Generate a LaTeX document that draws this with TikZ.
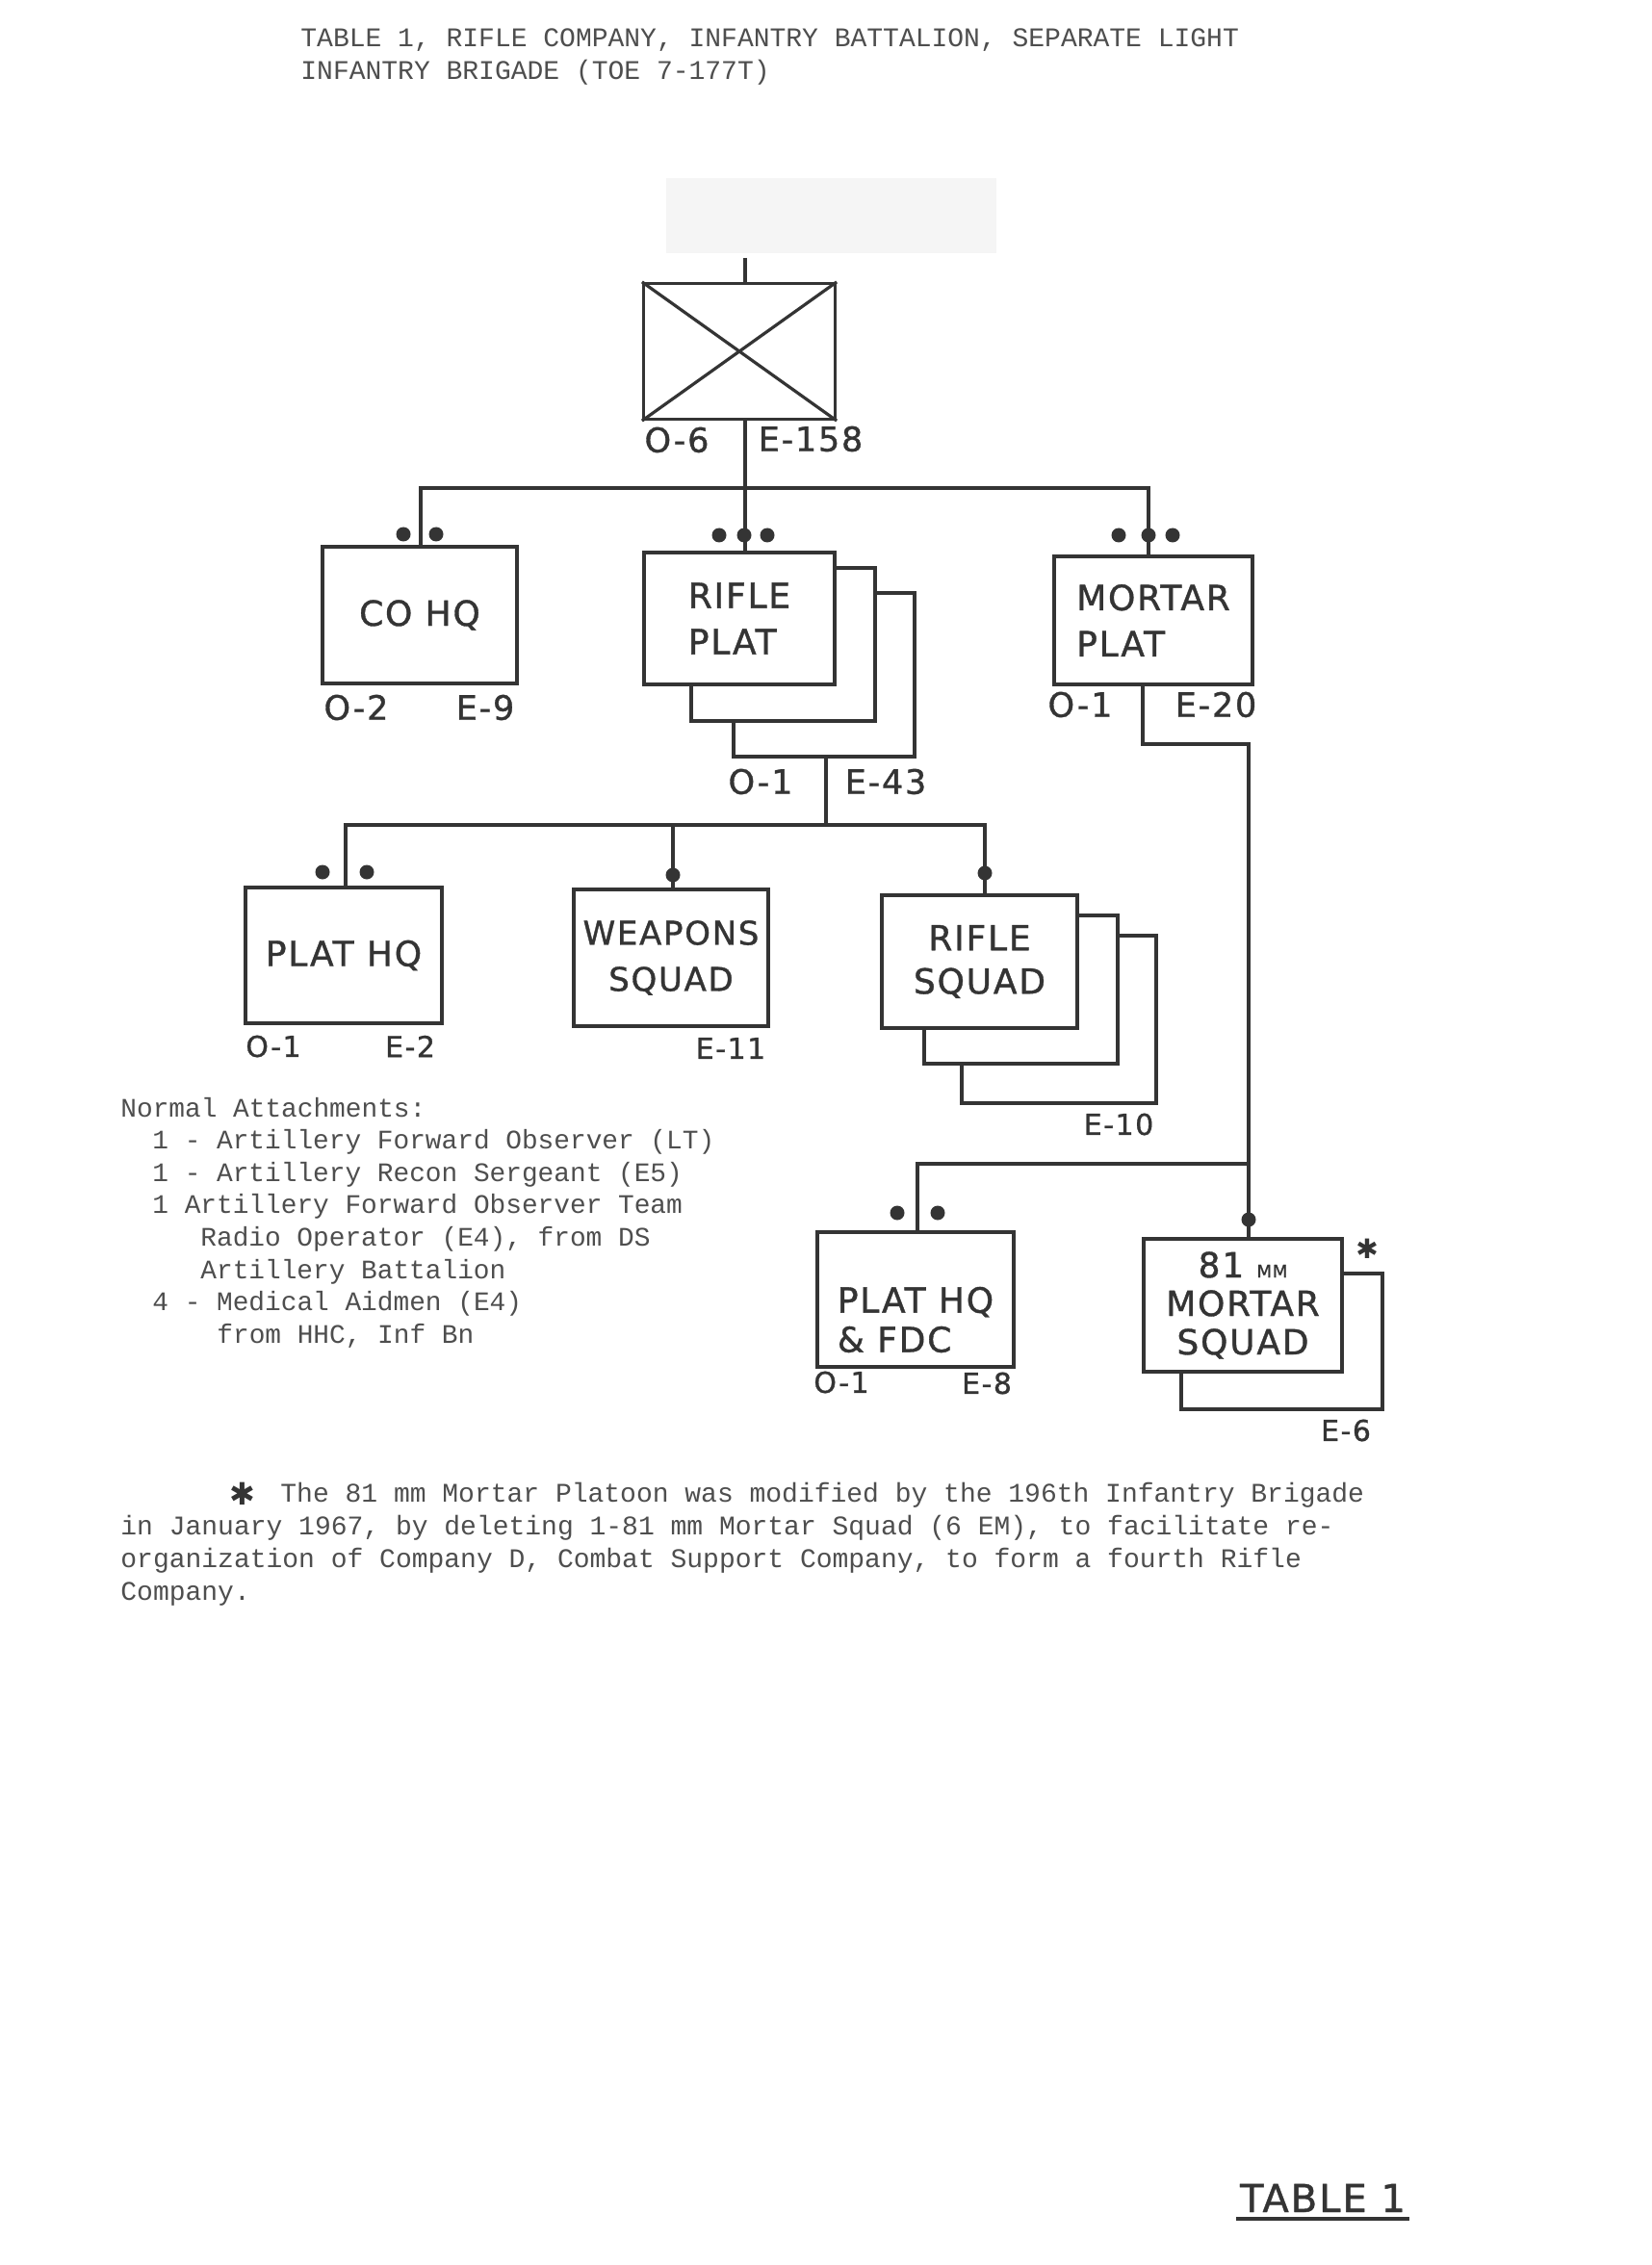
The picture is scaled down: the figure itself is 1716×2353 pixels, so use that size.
\documentclass[tikz,border=0pt]{standalone}
\usepackage{fontspec}
\setmainfont{Liberation Serif}
\newfontfamily\typew{Liberation Mono}
\newfontfamily\hand[LetterSpace=5,FakeBold=1]{DejaVu Sans}
\newfontfamily\symf{DejaVu Sans}
\definecolor{ink}{HTML}{343434}
\definecolor{typeink}{HTML}{4E4E4E}
\begin{document}
\begin{tikzpicture}[x=0.5pt,y=-0.5pt,
  box/.style={draw=ink, line width=1.6pt, fill=white, inner sep=0pt, text=ink, font=\hand\fontsize{18}{24}\selectfont},
  sz/.style 2 args={minimum width=#1*0.5pt, minimum height=#2*0.5pt},
  wire/.style={draw=ink, line width=1.6pt},
  lab/.style={font=\hand\fontsize{17.5}{18}\selectfont, text=ink, inner sep=0pt},
  labs/.style={font=\hand\fontsize{15}{16}\selectfont, text=ink, inner sep=0pt},
  typ/.style={font=\typew\frenchspacing\fontsize{13.9}{16}\selectfont, text=typeink, anchor=base west, inner sep=0pt},
  typf/.style={typ, font=\typew\frenchspacing\fontsize{14}{16}\selectfont},
  dotn/.style={circle, fill=ink, inner sep=0pt, minimum size=7.5pt},
  btxt/.style={inner sep=0pt, text=ink, font=\hand\fontsize{18}{20.5}\selectfont},
]
\useasboundingbox (0,0) rectangle (1716,2353);
\fill[white] (0,0) rectangle (1716,2353);
\fill[black!4] (692,185) rectangle (1035,263);

% title
\node[typf] (t1) at (312,49) {TABLE 1, RIFLE COMPANY, INFANTRY BATTALION, SEPARATE LIGHT};
\node[typf] (t2) at (312,83) {INFANTRY BRIGADE (TOE 7-177T)};

% boxes
\node[box, sz={199}{141}] (coy) at (768,365) {};
\draw[wire] (coy.north west) -- (coy.south east) (coy.north east) -- (coy.south west);
\node[box, sz={202}{142}] (cohq) at (436,639) {CO HQ};
\node[box, sz={188}{170}] (rp3) at (856,701) {};
\node[box, sz={191}{159}] (rp2) at (813.5,669.5) {};
\node[box, sz={198}{137}, align=left] (rp) at (768,642.5) {RIFLE\\PLAT};
\node[box, sz={206}{133}, align=left] (mp) at (1198,644.5) {MORTAR\\PLAT};
\node[box, sz={204}{141}] (phq) at (357,992.5) {PLAT HQ};
\node[box, sz={202}{142}, align=center, font=\hand\fontsize{17}{24}\selectfont] (ws) at (697,995) {WEAPONS\\SQUAD};
\node[box, sz={202}{174}] (rs3) at (1100,1059) {};
\node[box, sz={201}{154}] (rs2) at (1060.5,1028) {};
\node[box, sz={203}{138}, align=center, font=\hand\fontsize{18}{22.5}\selectfont] (rs) at (1017.5,999) {RIFLE\\SQUAD};
\node[box, sz={204}{140}] (fdc) at (951,1350) {};
\node[btxt, align=left] (fdct) at (951,1371) {PLAT HQ\\\& FDC};
\node[box, sz={209}{141}] (m81b) at (1331.5,1393.5) {};
\node[box, sz={206}{138}, align=center, font=\hand\fontsize{18}{20}\selectfont] (m81) at (1291,1356) {81 {\fontsize{9}{9}\selectfont MM}\\MORTAR\\SQUAD};

% connectors
\coordinate (top) at (774,268);
\draw[wire] (top) -- (top |- coy.north);
\coordinate (j0) at (774,507);
\draw[wire] (coy.south -| j0) -- (j0);
\coordinate (b1L) at (437,507);
\coordinate (b1R) at (1193,507);
\draw[wire] (cohq.north -| b1L) -- (b1L) -- (b1R) -- (mp.north -| b1R);
\draw[wire] (j0) -- (rp.north -| j0);

\coordinate (j1) at (858,857);
\draw[wire] (rp3.south -| j1) -- (j1);
\coordinate (b2L) at (359,857);
\coordinate (b2M) at (699,857);
\coordinate (b2R) at (1023,857);
\draw[wire] (phq.north -| b2L) -- (b2L) -- (b2R) -- (rs.north -| b2R);
\draw[wire] (b2M) -- (ws.north -| b2M);

\coordinate (m1) at (1187,773);
\coordinate (m2) at (1297,773);
\coordinate (m3) at (1297,1209);
\coordinate (b3L) at (953,1209);
\draw[wire] (mp.south -| m1) -- (m1) -- (m2) -- (m81.north -| m2);
\draw[wire] (m3) -- (b3L) -- (fdc.north -| b3L);

% dots
\node[dotn] (dc1) at (419,555) {};
\node[dotn] (dc2) at (453,555) {};
\node[dotn] (dr1) at (747,556) {};
\node[dotn] (dr2) at (773,556) {};
\node[dotn] (dr3) at (797,556) {};
\node[dotn] (dm1) at (1162,556) {};
\node[dotn] (dm2) at (1193,556) {};
\node[dotn] (dm3) at (1218,556) {};
\node[dotn] (dp1) at (335,906) {};
\node[dotn] (dp2) at (381,906) {};
\node[dotn] (dw) at (699,909) {};
\node[dotn] (drs) at (1023,907) {};
\node[dotn] (df1) at (932,1260) {};
\node[dotn] (df2) at (974,1260) {};
\node[dotn] (dmm) at (1297,1267) {};

% strength labels
\node[lab] (lo6) at (703,457) {O-6};
\node[lab] (le158) at (842,456) {E-158};
\node[lab] (lo2) at (370,735) {O-2};
\node[lab] (le9) at (504,735) {E-9};
\node[lab] (lrpo) at (790,812) {O-1};
\node[lab] (lrpe) at (920,812) {E-43};
\node[lab] (lmpo) at (1122,732) {O-1};
\node[lab] (lmpe) at (1263,732) {E-20};
\node[labs] (lpho) at (284,1087) {O-1};
\node[labs] (lphe) at (426,1087) {E-2};
\node[labs] (lwse) at (759,1089) {E-11};
\node[labs] (lrse) at (1162,1168) {E-10};
\node[labs] (lfdo) at (874,1436) {O-1};
\node[labs] (lfde) at (1025,1437) {E-8};
\node[labs] (lmme) at (1398,1486) {E-6};
\node[text=ink, font=\symf\fontsize{14}{14}\selectfont, inner sep=0pt] (ast) at (1420,1297) {✱};

% attachments
\node[typ] (a1) at (125,1160) {Normal Attachments:};
\node[typ] (a2) at (158,1193.6) {1 - Artillery Forward Observer (LT)};
\node[typ] (a3) at (158,1227.2) {1 - Artillery Recon Sergeant (E5)};
\node[typ] (a4) at (158,1260.8) {1 Artillery Forward Observer Team};
\node[typ] (a5) at (208,1294.4) {Radio Operator (E4), from DS};
\node[typ] (a6) at (208,1328) {Artillery Battalion};
\node[typ] (a7) at (158,1361.6) {4 - Medical Aidmen (E4)};
\node[typ] (a8) at (225,1395.2) {from HHC, Inf Bn};

% footnote
\node[text=ink, font=\symf\fontsize{16}{16}\selectfont, inner sep=0pt] (fast) at (252,1552) {✱};
\node[typf] (f1) at (291,1560) {The 81 mm Mortar Platoon was modified by the 196th Infantry Brigade};
\node[typf] (f2) at (125,1594) {in January 1967, by deleting 1-81 mm Mortar Squad (6 EM), to facilitate re-};
\node[typf] (f3) at (125,1628) {organization of Company D, Combat Support Company, to form a fourth Rifle};
\node[typf] (f4) at (125,1662) {Company.};

% table tag
\node[inner sep=0pt, text=ink, font=\hand\fontsize{20}{20}\selectfont, anchor=base] (tbl) at (1374,2298) {TABLE 1};
\draw[wire, line width=2pt] ([xshift=-2pt,yshift=-3.5pt]tbl.base west) -- ([xshift=2pt,yshift=-3.5pt]tbl.base east);
\end{tikzpicture}
\end{document}
